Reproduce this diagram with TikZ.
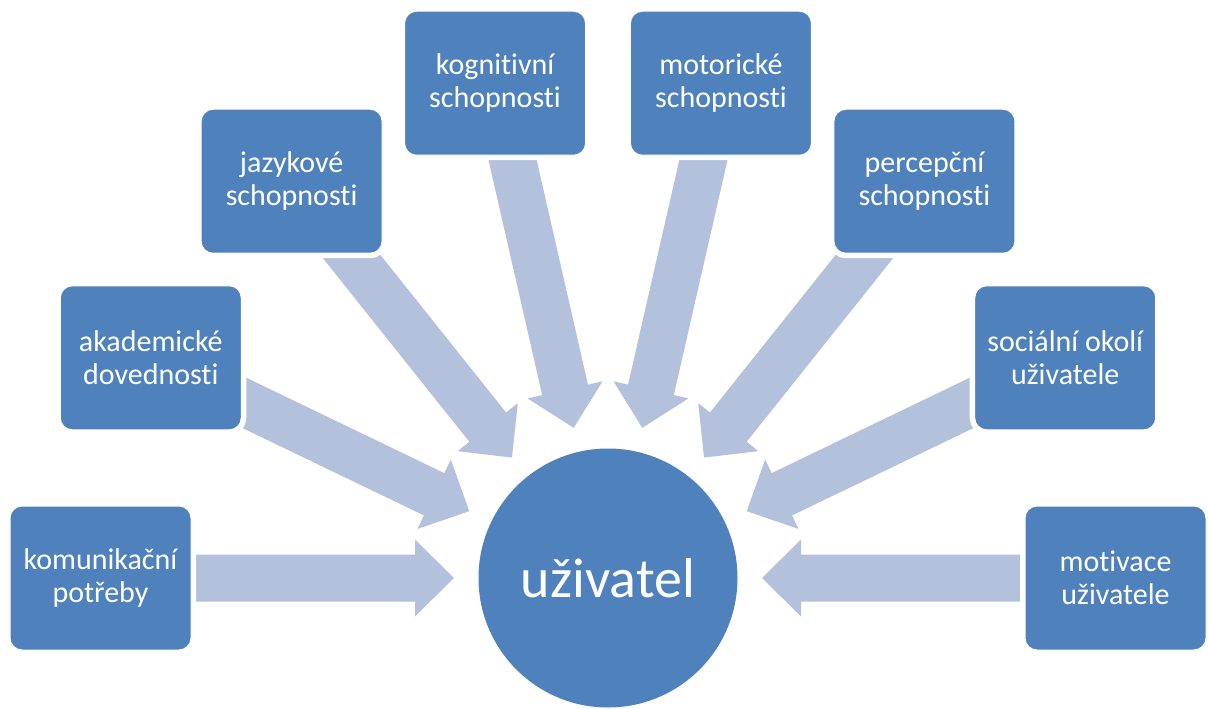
\documentclass[tikz,border=0pt]{standalone}
\usepackage{fontspec}
\setmainfont{Carlito}[Ligatures={NoCommon,NoContextual}]
\usetikzlibrary{calc}
\definecolor{boxblue}{HTML}{4F81BD}
\definecolor{arrowblue}{HTML}{B3C1DC}
\begin{document}
\begin{tikzpicture}[x=1pt,y=-1pt,
  stepbox/.style={rounded corners=12pt, fill=boxblue, draw=white, line width=1pt,
    preaction={draw=white, line width=10pt},
    minimum width=181pt, minimum height=144pt, inner sep=0pt, align=center,
    text=white, font=\fontsize{30}{33}\selectfont},
  hub/.style={circle, fill=boxblue, minimum size=259pt, inner sep=0pt,
    text=white, font=\fontsize{56}{60}\selectfont},
  blockarrow/.style={fill=arrowblue}]
\useasboundingbox (0,0) rectangle (1208,709);
\node[hub] (c) at (608,578) {uživatel};
\foreach \k in {0,...,7}{
  \pgfmathsetmacro\a{180+\k*180/7}
  \fill[blockarrow]
    ($(c)+(\a:470)+(\a+90:23.5)$) -- ($(c)+(\a:193)+(\a+90:23.5)$) --
    ($(c)+(\a:193)+(\a+90:38.5)$) -- ($(c)+(\a:154)$) --
    ($(c)+(\a:193)+(\a-90:38.5)$) -- ($(c)+(\a:193)+(\a-90:23.5)$) --
    ($(c)+(\a:470)+(\a-90:23.5)$) -- cycle;
}
\foreach \k/\t in {0/{komunikační\\potřeby}, 1/{akademické\\dovednosti},
  2/{jazykové\\schopnosti}, 3/{kognitivní\\schopnosti}, 4/{motorické\\schopnosti},
  5/{percepční\\schopnosti}, 6/{sociální okolí\\uživatele}, 7/{motivace\\uživatele}}{
  \pgfmathsetmacro\a{180+\k*180/7}
  \node[stepbox] (b\k) at ($(c)+(\a:507.5)$) {\t};
}
\end{tikzpicture}
\end{document}
